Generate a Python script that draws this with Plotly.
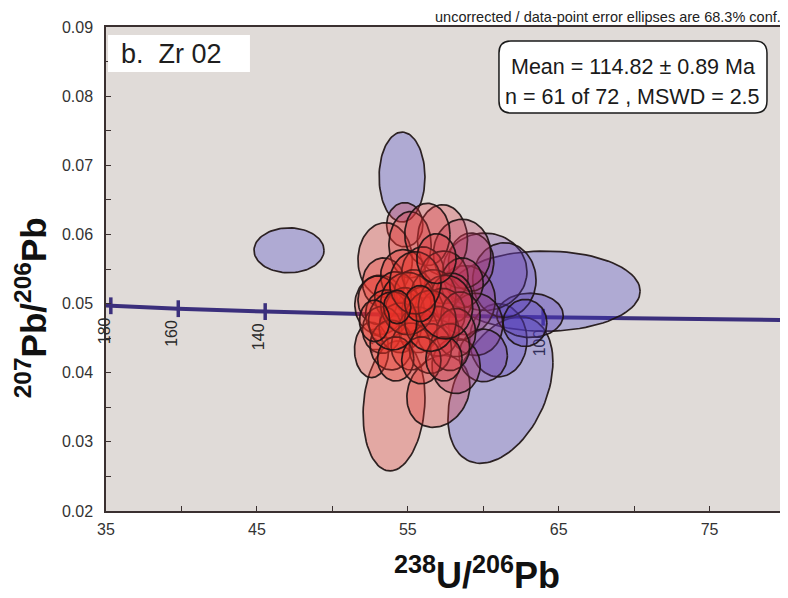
import numpy as np
import plotly.graph_objects as go

# ---------------- data ----------------
# error ellipses: centre (x = 238U/206Pb, y = 207Pb/206Pb), half-axes, correlation, colour index (0 red -> 1 blue)
ell_x = [64.10, 61.14, 54.09, 57.03, 47.13, 54.62,
         61.00, 63.10, 60.10, 61.40, 62.77, 58.80, 59.50, 60.00, 59.20,
         54.80, 57.30, 53.50, 55.15, 58.60, 53.15, 52.60, 56.30, 58.20,
         53.4, 54.7, 56.0, 57.4, 58.6, 53.0, 54.2, 55.4, 56.7, 57.9,
         53.6, 54.8, 56.0, 57.3, 58.5, 53.3, 54.5, 55.7, 57.0, 58.2,
         53.9, 55.2, 56.5, 57.8, 54.2, 55.9, 57.4, 55.0, 56.5, 54.0, 57.5, 55.5, 55.8, 54.3,
         56.9, 52.8]
ell_y = [0.0518, 0.0375, 0.0352, 0.0373, 0.0577, 0.0683,
         0.0447, 0.0483, 0.0546, 0.0534, 0.0472, 0.0505, 0.0470, 0.0425, 0.0560,
         0.0614, 0.0592, 0.0563, 0.0585, 0.0572, 0.0498, 0.0433, 0.0600, 0.0410,
         0.0530, 0.0540, 0.0545, 0.0538, 0.0530, 0.0505, 0.0510, 0.0515, 0.0512, 0.0508,
         0.0485, 0.0490, 0.0488, 0.0485, 0.0482, 0.0462, 0.0465, 0.0462, 0.0460, 0.0458,
         0.0440, 0.0438, 0.0435, 0.0437, 0.0420, 0.0418, 0.0420, 0.0500, 0.0475, 0.0475, 0.0495, 0.0530, 0.0500, 0.0495,
         0.0565, 0.0475]
ell_sx = [6.30, 3.48, 2.05, 2.09, 2.32, 1.52,
          1.90, 2.20, 2.80, 2.10, 1.45, 2.00, 1.80, 1.60, 1.50,
          1.20, 1.66, 1.80, 1.40, 1.90, 1.66, 1.13, 1.50, 1.60,
          1.4, 1.5, 1.4, 1.6, 1.4, 1.3, 1.4, 1.3, 1.5, 1.4,
          1.4, 1.3, 1.4, 1.5, 1.3, 1.3, 1.4, 1.3, 1.4, 1.3,
          1.4, 1.3, 1.4, 1.3, 1.2, 1.3, 1.2, 1.8, 1.7, 1.6, 1.8, 1.7, 1.0, 0.9,
          1.3, 1.0]
ell_sy = [0.0058, 0.0106, 0.0094, 0.0052, 0.00325, 0.0065,
          0.0053, 0.0032, 0.0056, 0.0054, 0.0034, 0.0050, 0.0045, 0.0038, 0.0042,
          0.0032, 0.0051, 0.0054, 0.0048, 0.0050, 0.0043, 0.0040, 0.0045, 0.0040,
          0.0036, 0.0038, 0.0037, 0.0038, 0.0036, 0.0035, 0.0036, 0.0034, 0.0037, 0.0036,
          0.0035, 0.0033, 0.0036, 0.0037, 0.0035, 0.0034, 0.0036, 0.0033, 0.0036, 0.0035,
          0.0036, 0.0034, 0.0036, 0.0034, 0.0032, 0.0034, 0.0032, 0.0045, 0.0044, 0.0042, 0.0046, 0.0045, 0.0026, 0.0024,
          0.0036, 0.0030]
ell_rho = [0.0, 0.38, 0.13, 0.17] + [0.0] * 56
ell_c = [1.0, 1.0, 0.0, 0.05, 1.0, 1.0,
         0.9, 0.85, 0.75, 0.85, 0.9, 0.5, 0.55, 0.7, 0.45,
         0.15, 0.1, 0.05, 0.05, 0.3, 0.0, 0.0, 0.1, 0.35,
         0.0, 0.05, 0.0, 0.1, 0.25, 0.0, 0.0, 0.0, 0.05, 0.2,
         0.0, 0.0, 0.0, 0.05, 0.25, 0.0, 0.0, 0.0, 0.05, 0.2,
         0.0, 0.0, 0.05, 0.15, 0.0, 0.05, 0.1, 0.0, 0.0, 0.0, 0.1, 0.0, 0.0, 0.0,
         0.1, 0.0]

# concordia curve and age marks
conc_x = [35.0, 35.32, 39.79, 45.55, 53.22, 63.97, 80.0]
conc_y = [0.04972, 0.04968, 0.04926, 0.04884, 0.04842, 0.04802, 0.04761]
age_labels = ["180", "160", "140", "120", "100"]
age_x = [35.32, 39.79, 45.55, 53.22, 63.97]
age_y = [0.04968, 0.04926, 0.04884, 0.04842, 0.04802]
age_label_y = [0.0460, 0.0457, 0.0452, 0.0446, 0.0443]

x_ticks = [35, 45, 55, 65, 75]
y_ticks = [0.02, 0.03, 0.04, 0.05, 0.06, 0.07, 0.08, 0.09]
X_RANGE = [35, 80]
Y_RANGE = [0.02, 0.09]

# ---------------- styling ----------------
FONT = "Liberation Sans, Arial, sans-serif"
BG = "#e0dbd8"
RED = np.array([235, 50, 40])
BLUE = np.array([62, 56, 200])
ALPHA = 0.3
CONC = "#3b2f7c"

fig = go.Figure()

# concordia line under the ellipses
fig.add_trace(go.Scatter(x=conc_x, y=conc_y, mode="lines",
                         line=dict(color=CONC, width=4), hoverinfo="skip", showlegend=False))
fig.add_trace(go.Scatter(x=age_x, y=age_y, mode="markers",
                         marker=dict(symbol="line-ns", size=12, line=dict(color=CONC, width=3.5)),
                         hoverinfo="skip", showlegend=False))

t = np.linspace(0, 2 * np.pi, 90)
for cx, cy, sx, sy, r, c in zip(ell_x, ell_y, ell_sx, ell_sy, ell_rho, ell_c):
    xs = cx + sx * np.cos(t)
    ys = cy + sy * (r * np.cos(t) + np.sqrt(1 - r * r) * np.sin(t))
    rgb = (1 - c) * RED + c * BLUE
    fig.add_trace(go.Scatter(
        x=xs, y=ys, mode="lines", fill="toself",
        fillcolor=f"rgba({int(rgb[0])},{int(rgb[1])},{int(rgb[2])},{ALPHA})",
        line=dict(color="rgba(30,20,20,0.92)", width=1.7),
        hoverinfo="skip", showlegend=False))

shapes = []
annotations = []
# age labels: hidden ones go beneath the ellipses, visible ones as annotations
for lab, ax_, ay_ in zip(age_labels, age_x, age_label_y):
    if lab in ("120", "100"):
        shapes.append(dict(type="rect", xref="x", yref="y", layer="below",
                           x0=ax_ - 0.9, x1=ax_ + 0.1, y0=ay_ - 0.002, y1=ay_ + 0.002,
                           line=dict(width=0), fillcolor="rgba(0,0,0,0)",
                           label=dict(text=lab, textangle=-90, textposition="middle center",
                                      font=dict(family=FONT, size=16, color="#2a2a2a"))))
    else:
        px_ = (ax_ - 0.45 - X_RANGE[0]) / (X_RANGE[1] - X_RANGE[0])
        py_ = (ay_ - Y_RANGE[0]) / (Y_RANGE[1] - Y_RANGE[0])
        annotations.append(dict(text=lab, xref="paper", yref="paper", x=px_, y=py_,
                                xanchor="center", yanchor="middle", textangle=-90, showarrow=False,
                                font=dict(family=FONT, size=16, color="#2a2a2a")))

# white label box
shapes.append(dict(type="rect", xref="paper", yref="paper", x0=0.003, x1=0.212, y0=0.907, y1=0.9835,
                   line=dict(width=0), fillcolor="white", layer="above"))
# rounded statistics box
hw, hh, rr = 134, 36, 12
path = (f"M {-hw+rr},{-hh} L {hw-rr},{-hh} Q {hw},{-hh} {hw},{-hh+rr} L {hw},{hh-rr} "
        f"Q {hw},{hh} {hw-rr},{hh} L {-hw+rr},{hh} Q {-hw},{hh} {-hw},{hh-rr} "
        f"L {-hw},{-hh+rr} Q {-hw},{-hh} {-hw+rr},{-hh} Z")
shapes.append(dict(type="path", xref="paper", yref="paper", xsizemode="pixel", ysizemode="pixel",
                   xanchor=0.7761, yanchor=0.8967, path=path,
                   line=dict(color="#1a1a1a", width=1.5), fillcolor="white", layer="above"))

annotations += [
    dict(text="b.\u00a0\u00a0Zr 02", xref="paper", yref="paper", x=0.0972, y=0.9442,
         xanchor="center", yanchor="middle", showarrow=False,
         font=dict(family=FONT, size=27, color="#1e1e1e")),
    dict(text="Mean = 114.82 ± 0.89 Ma", xref="paper", yref="paper", x=0.7761, y=0.9174,
         xanchor="center", yanchor="middle", showarrow=False,
         font=dict(family=FONT, size=21.5, color="#1a1a1a")),
    dict(text="n = 61 of 72 , MSWD = 2.5", xref="paper", yref="paper", x=0.7761, y=0.8554,
         xanchor="center", yanchor="middle", showarrow=False,
         font=dict(family=FONT, size=21.5, color="#1a1a1a")),
    dict(text="uncorrected / data-point error ellipses are 68.3% conf.", xref="paper", yref="paper",
         x=0.997, y=1.0207, xanchor="right", yanchor="middle", showarrow=False,
         font=dict(family=FONT, size=14.5, color="#222")),
    dict(text="<b><sup>238</sup>U/<sup>206</sup>Pb</b>", xref="paper", yref="paper",
         x=0.5464, y=-0.128, xanchor="center", yanchor="middle", showarrow=False,
         font=dict(family=FONT, size=36, color="#111")),
    dict(text="<b><sup>207</sup>Pb/<sup>206</sup>Pb</b>", xref="paper", yref="paper",
         x=-0.110, y=0.4194, xanchor="center", yanchor="middle", showarrow=False, textangle=-90,
         font=dict(family=FONT, size=35, color="#111")),
]

axis_common = dict(showgrid=False, zeroline=False, showline=True, mirror=True,
                   linecolor="#3a3030", linewidth=1.5, ticks="inside", ticklen=5,
                   tickwidth=1.3, tickcolor="#3a3030",
                   tickfont=dict(family=FONT, size=16, color="#333"))

# the page body adds an 8 px offset, so the figure is sized to fit the 788x598 window
fig.update_layout(
    width=780, height=590,
    margin=dict(l=98, r=3, t=19, b=87, autoexpand=False),
    paper_bgcolor="white", plot_bgcolor=BG,
    xaxis=dict(range=X_RANGE, tickvals=x_ticks, ticktext=[str(v) for v in x_ticks],
               minor=dict(dtick=5, tick0=35, ticks="inside", ticklen=5, tickcolor="#3a3030", tickwidth=1.3),
               ticklabelstandoff=3, **axis_common),
    yaxis=dict(range=Y_RANGE, tickvals=y_ticks, ticktext=[f"{v:.2f}" for v in y_ticks],
               minor=dict(dtick=0.005, tick0=0.02, ticks="inside", ticklen=5, tickcolor="#3a3030", tickwidth=1.3),
               ticklabelstandoff=8, **axis_common),
    shapes=shapes, annotations=annotations, showlegend=False,
)

fig.write_html("out.html")
